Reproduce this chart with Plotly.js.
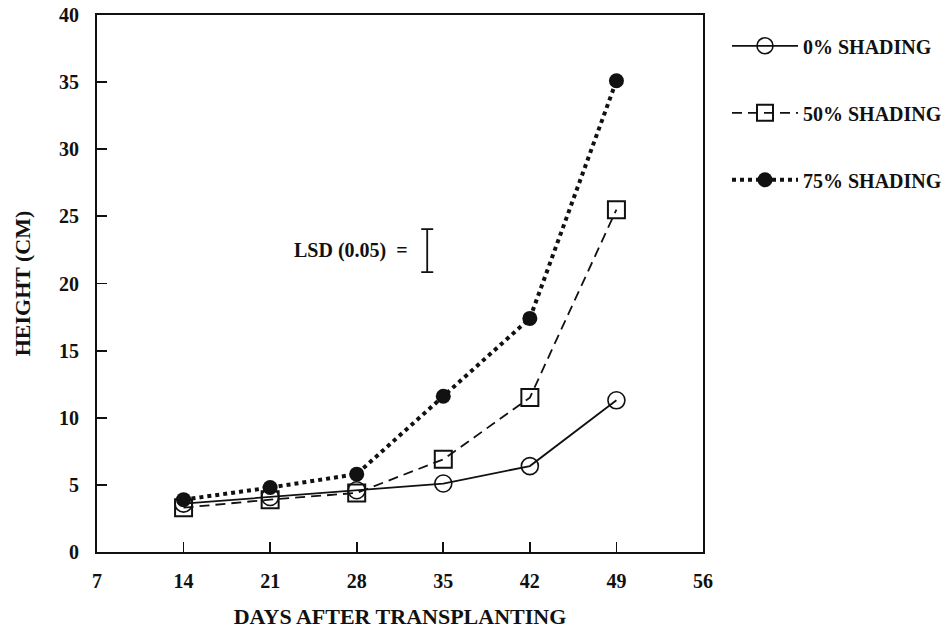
<!DOCTYPE html>
<html>
<head>
<meta charset="utf-8">
<script src="https://cdn.plot.ly/plotly-3.0.1.min.js"></script>
<style>html,body{margin:0;padding:0;background:#fff}#chart{width:950px;height:630px}</style>
</head>
<body>
<div id="chart"></div>
<script>
const days = [14, 21, 28, 35, 42, 49];
const shade0 = [3.6, 4.1, 4.6, 5.1, 6.4, 11.3];
const shade50 = [3.3, 3.9, 4.4, 6.9, 11.5, 25.5];
const shade75 = [3.9, 4.8, 5.8, 11.6, 17.4, 35.1];
const seriesNames = ['0% SHADING', '50% SHADING', '75% SHADING'];
const xTicks = [7, 14, 21, 28, 35, 42, 49, 56];
const yTicks = [0, 5, 10, 15, 20, 25, 30, 35, 40];
const lsdX = [33.7];
const lsdCenter = [22.45];
const lsdHalf = [1.6];
const lsdLabel = 'LSD (0.05)  =';

const serif = 'Liberation Serif, Times New Roman, serif';
const traces = [
  {x: days, y: shade0, name: seriesNames[0], mode: 'lines+markers', legendgroup: 'a',
   line: {color: '#111', width: 1.8, dash: 'solid'},
   marker: {symbol: 'circle-open', size: 17, color: '#111', line: {width: 1.6, color: '#111'}}},
  {x: days, y: shade50, name: seriesNames[1], mode: 'lines+markers', legendgroup: 'b',
   line: {color: '#111', width: 1.8, dash: '10px,6px'},
   marker: {symbol: 'square-open', size: 17, color: '#111', line: {width: 2, color: '#111'}}},
  {x: days, y: shade75, name: seriesNames[2], mode: 'lines+markers', legendgroup: 'c',
   line: {color: '#111', width: 4, dash: 'dot'},
   marker: {symbol: 'circle', size: 15, color: '#111'}},
  {x: lsdX, y: lsdCenter, mode: 'markers', showlegend: false, hoverinfo: 'skip',
   marker: {size: 1, color: 'rgba(0,0,0,0)'},
   error_y: {type: 'data', array: lsdHalf, visible: true, color: '#111', thickness: 1.8, width: 6}}
];

const layout = {
  width: 950, height: 630,
  margin: {l: 97, r: 247, t: 15, b: 78, autoexpand: false},
  paper_bgcolor: '#fff', plot_bgcolor: '#fff',
  font: {family: serif, size: 20, color: '#111', weight: 'bold'},
  showlegend: true,
  legend: {x: 1.0396, y: 0.979, xanchor: 'left', yanchor: 'top', traceorder: 'grouped',
           tracegroupgap: 38, itemwidth: 66, font: {family: serif, size: 20, color: '#111', weight: 'bold'},
           bgcolor: 'rgba(0,0,0,0)'},
  xaxis: {range: [7, 56], tickvals: xTicks, ticktext: xTicks.map(String), ticks: 'inside', ticklen: 10,
          tickwidth: 1.8, tickcolor: '#111', showgrid: false, zeroline: false, showline: true,
          linecolor: '#111', linewidth: 2, mirror: true, ticklabelstandoff: 10,
          tickfont: {family: serif, size: 20, weight: 'bold'},
          title: {text: 'DAYS AFTER TRANSPLANTING', standoff: 18, font: {family: serif, size: 22, weight: 'bold'}}},
  yaxis: {range: [0, 40], tickvals: yTicks, ticks: 'inside', ticklen: 10, tickwidth: 1.8,
          tickcolor: '#111', showgrid: false, zeroline: false, showline: true, linecolor: '#111',
          linewidth: 2, mirror: true, ticklabelstandoff: 12,
          tickfont: {family: serif, size: 20, weight: 'bold'},
          title: {text: 'HEIGHT (CM)', standoff: 22, font: {family: serif, size: 22, weight: 'bold'}}},
  annotations: [{x: lsdX[0] - 1.4, y: lsdCenter[0], xref: 'x', yref: 'y', text: lsdLabel, showarrow: false,
                 xanchor: 'right', yanchor: 'middle', font: {family: serif, size: 20, weight: 'bold'}}]
};
Plotly.newPlot('chart', traces, layout, {displayModeBar: false, staticPlot: true});
</script>
</body>
</html>
